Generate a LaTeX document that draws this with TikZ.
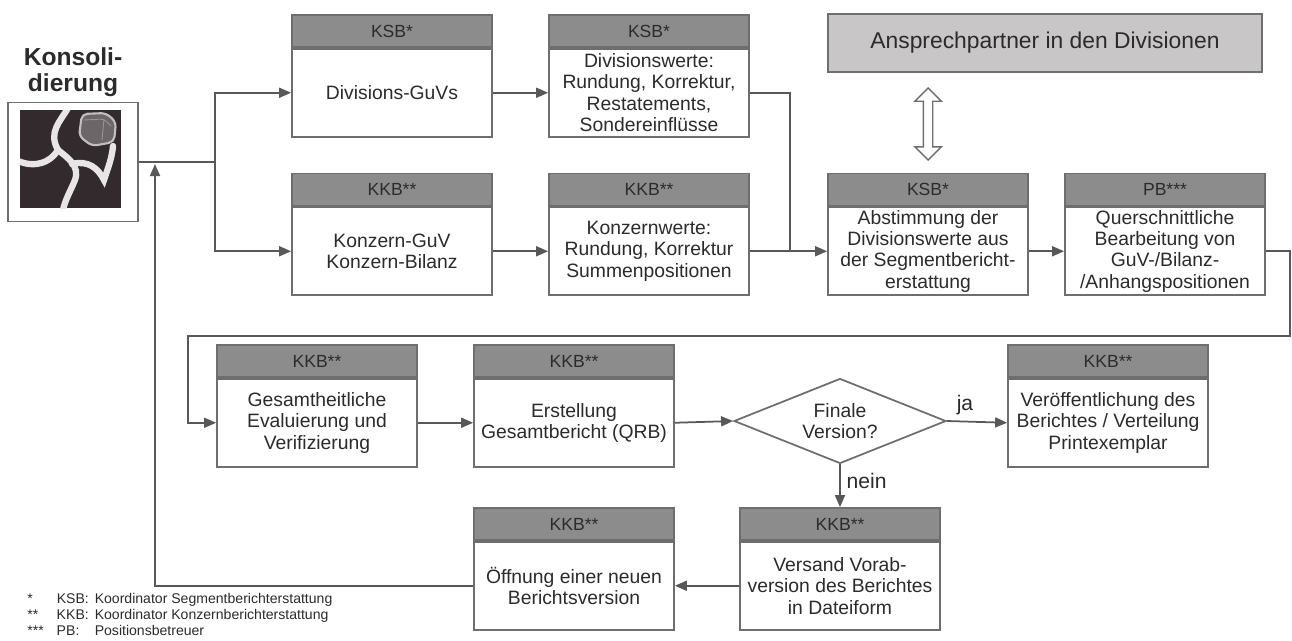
\documentclass[tikz,border=0pt]{standalone}
\usepackage{fontspec}
\setmainfont{Liberation Sans}
\usetikzlibrary{positioning,arrows.meta,shapes.geometric,shapes.arrows}

\definecolor{headgray}{HTML}{8C8C8C}
\definecolor{framegray}{HTML}{6E6E6E}
\definecolor{linegray}{HTML}{585858}
\definecolor{txt}{HTML}{2B2B2B}
\definecolor{contactgray}{HTML}{C9C6C7}
\definecolor{logodark}{HTML}{332A2D}

\tikzset{
	head/.style={draw=framegray, fill=headgray, line width=1pt, minimum width=4cm, minimum height=0.64cm, inner sep=0pt, font=\fontsize{10}{11}\selectfont, text=txt},
	body/.style={draw=framegray, fill=white, line width=1pt, minimum width=4cm, minimum height=1.76cm, align=center, inner sep=0pt, font=\fontsize{11}{12.2}\selectfont, text=txt},
	flow/.style={draw=linegray, line width=1pt, -{Triangle[length=2.4mm,width=2mm]}},
	link/.style={draw=linegray, line width=1pt},
	crack/.style={draw=white!88!logodark, line width=3.6pt, line cap=round},
}

\begin{document}
\begin{tikzpicture}[x=0.2mm, y=-0.2mm]
	\useasboundingbox (0,0) rectangle (1292,640);
	\clip (0,0) rectangle (1292,640);

	% Konsolidierung with its logo
	\node[font=\fontsize{14}{14.5}\selectfont\bfseries, text=txt, align=center] (title) at (73,72) {Konsoli-\\dierung};
	\node[draw=framegray, line width=1pt, minimum width=2.6cm, minimum height=2.38cm, inner sep=0pt] (logo) at (73,162) {};
	\fill[logodark] (20,110) rectangle (121,208);
	\begin{scope}
		\clip (20,110) rectangle (121,208);
		\draw[crack] (68,108) .. controls (60,122) and (48,132) .. (58,150);
		\draw[crack] (18,161) .. controls (35,168) and (50,163) .. (58,150);
		\draw[crack] (58,150) .. controls (68,158) and (80,166) .. (75,180) .. controls (71,190) and (65,200) .. (63,210);
		\draw[crack] (72,164) .. controls (88,160) and (98,168) .. (104,180) .. controls (108,168) and (112,158) .. (113,146);
	\end{scope}
	\draw[white!70!logodark, fill=logodark!72!white, line width=1.2pt, rounded corners=3pt] (82,114) -- (106,113) -- (116,122) -- (114,142) -- (92,146) -- (79,136) -- cycle;
	\draw[white!50!logodark, line width=0.5pt, rounded corners=2pt] (84,120) -- (104,119) -- (111,126) (104,119) -- (102,140);

	% first row
	\node[head] (hA) at (392,31) {KSB*};
	\node[body, below=0pt of hA] (bA) {Divisions-GuVs};
	\node[head] (hB) at (649,31) {KSB*};
	\node[body, below=0pt of hB] (bB) {Divisionswerte:\\Rundung, Korrektur,\\Restatements,\\Sondereinflüsse};
	\node[draw=framegray, fill=contactgray, line width=1pt, minimum width=8.68cm, minimum height=1.16cm, font=\fontsize{13}{14}\selectfont, text=txt] (contact) at (1045,43) {Ansprechpartner in den Divisionen};

	% second row
	\node[head] (hC) at (392,189.5) {KKB**};
	\node[body, below=0pt of hC] (bC) {Konzern-GuV\\Konzern-Bilanz};
	\node[head] (hD) at (649,189.5) {KKB**};
	\node[body, below=0pt of hD] (bD) {Konzernwerte:\\Rundung, Korrektur\\Summenpositionen};
	\node[head] (hE) at (928,189.5) {KSB*};
	\node[body, below=0pt of hE] (bE) {Abstimmung der\\Divisionswerte aus\\der Segmentbericht-\\erstattung};
	\node[head] (hF) at (1165,189.5) {PB***};
	\node[body, below=0pt of hF] (bF) {Querschnittliche\\Bearbeitung von\\GuV-/Bilanz-\\/Anhangspositionen};
	\node[double arrow, draw=framegray, fill=white, line width=0.8pt, rotate=90, minimum height=1.44cm, inner sep=0.08cm, double arrow head extend=0.17cm] (swap) at (928,124) {};

	% third row
	\node[head] (hG) at (317,361) {KKB**};
	\node[body, below=0pt of hG] (bG) {Gesamtheitliche\\Evaluierung und\\Verifizierung};
	\node[head] (hH) at (574,361) {KKB**};
	\node[body, below=0pt of hH] (bH) {Erstellung\\Gesamtbericht (QRB)};
	\node[diamond, draw=framegray, fill=white, line width=1pt, minimum width=4.24cm, minimum height=1.7cm, aspect=2.5, inner sep=0pt, align=center, font=\fontsize{11}{12.2}\selectfont, text=txt] (dec) at (840,421) {Finale\\Version?};
	\node[head] (hI) at (1108,361) {KKB**};
	\node[body, below=0pt of hI] (bI) {Veröffentlichung des\\Berichtes / Verteilung\\Printexemplar};

	% fourth row
	\node[head] (hJ) at (840,524) {KKB**};
	\node[body, below=0pt of hJ] (bJ) {Versand Vorab-\\version des Berichtes\\in Dateiform};
	\node[head] (hK) at (574,524) {KKB**};
	\node[body, below=0pt of hK] (bK) {Öffnung einer neuen\\Berichtsversion};

	\node[anchor=north west, inner sep=0pt, font=\fontsize{8}{9}\selectfont, text=txt] (legend) at (27,592) {%
		\begin{tabular}{@{}l@{\hspace{2.6mm}}l@{\hspace{1.2mm}}l@{}}
			{*} & KSB: & Koordinator Segmentberichterstattung\\
			{**} & KKB: & Koordinator Konzernberichterstattung\\
			{***} & PB: & Positionsbetreuer
		\end{tabular}};

	% connectors
	\coordinate (split) at (215,162);
	\coordinate (merge) at (790,250);
	\coordinate (wrapR) at (1290,336);
	\coordinate (wrapL) at (188,336);
	\coordinate (back) at (155,164);
	\draw[link] (logo.east) -- (split);
	\draw[flow] (split) |- (bA.west);
	\draw[flow] (split) |- (bC.west);
	\draw[flow] (bA.east) -- (bB.west);
	\draw[flow] (bC.east) -- (bD.west);
	\draw[link] (bB.east) -| (merge);
	\draw[flow] (bD.east) -- (bE.west);
	\draw[flow] (bE.east) -- (bF.west);
	\draw[flow] (bF.east) -| (wrapR) -- (wrapL) |- (bG.west);
	\draw[flow] (bG.east) -- (bH.west);
	\draw[flow] (bH.east) -- (dec.west);
	\draw[flow] (dec.east) -- node[pos=0.3, above, font=\fontsize{12}{13}\selectfont, text=txt] {ja} (bI.west);
	\draw[flow] (dec.south) -- node[pos=0.38, right, font=\fontsize{12}{13}\selectfont, text=txt] {nein} (hJ.north);
	\draw[flow] (bJ.west) -- (bK.east);
	\draw[flow] (bK.west) -| (back);
\end{tikzpicture}
\end{document}
